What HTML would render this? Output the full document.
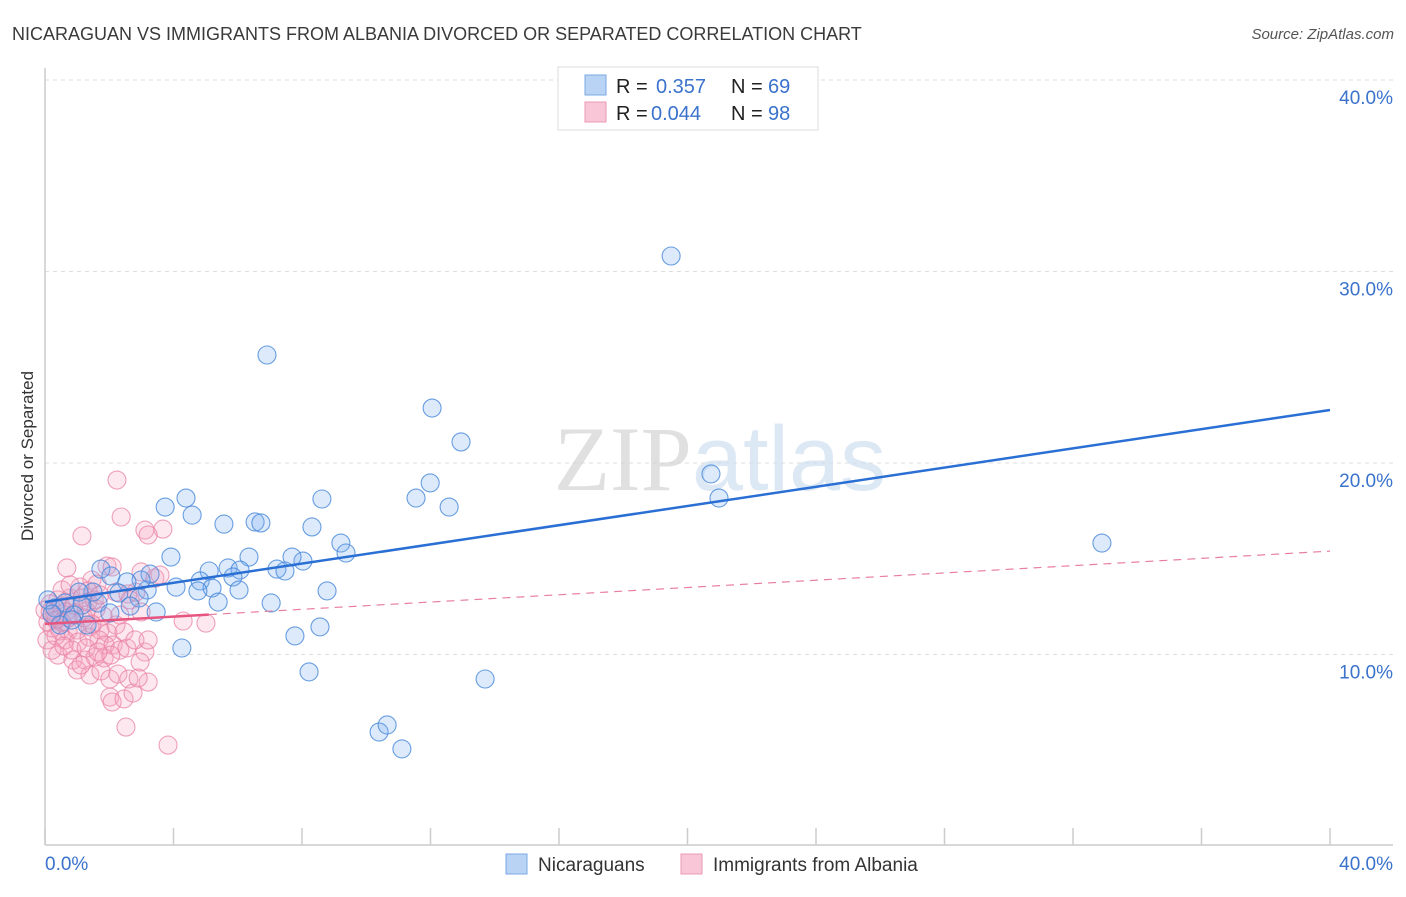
<!DOCTYPE html>
<html><head><meta charset="utf-8"><style>
body{margin:0;background:#fff;font-family:"Liberation Sans",sans-serif;}
svg text{font-family:"Liberation Sans",sans-serif;}
</style></head><body>
<svg id="chart" width="1406" height="892" xmlns="http://www.w3.org/2000/svg">
<text x="12" y="40" font-size="18" fill="#3a3a3a">NICARAGUAN VS IMMIGRANTS FROM ALBANIA DIVORCED OR SEPARATED CORRELATION CHART</text>
<text x="1394" y="39" font-size="15" fill="#555" font-style="italic" text-anchor="end">Source: ZipAtlas.com</text>
<text transform="translate(33,456) rotate(-90)" font-size="17" fill="#333" text-anchor="middle">Divorced or Separated</text>
<g id="grid"></g>
<g id="axes">
<line x1="45" y1="68" x2="45" y2="845" stroke="#ccc" stroke-width="1.5"/>
<line x1="45" y1="845" x2="1393" y2="845" stroke="#ccc" stroke-width="1.5"/>
</g>
<text x="720" y="490" font-size="92" text-anchor="middle" opacity="0.7"><tspan font-family="Liberation Serif" fill="#d4d4d4">ZIP</tspan><tspan fill="#cfdff2">atlas</tspan></text>
<g id="pink"></g>
<g id="blue"></g>
<g id="lines"></g>
<g>
<rect x="558" y="67" width="260" height="63" fill="#fff" stroke="#ddd"/>
<rect x="585" y="75" width="21" height="20" fill="#b8d3f4" stroke="#7aa8e4"/>
<rect x="585" y="102" width="21" height="20" fill="#f8c6d6" stroke="#ea9ab4"/>
<text x="616" y="93" font-size="20" fill="#222">R = </text><text x="656" y="93" font-size="20" fill="#3a72cc">0.357</text>
<text x="731" y="93" font-size="20" fill="#222">N = </text><text x="768" y="93" font-size="20" fill="#3a72cc">69</text>
<text x="616" y="120" font-size="20" fill="#222">R = </text><text x="651" y="120" font-size="20" fill="#3a72cc">0.044</text>
<text x="731" y="120" font-size="20" fill="#222">N = </text><text x="768" y="120" font-size="20" fill="#3a72cc">98</text>
</g>
<g>
<rect x="506" y="854" width="21" height="20" fill="#b8d3f4" stroke="#7aa8e4"/>
<text x="538" y="871" font-size="19" fill="#333">Nicaraguans</text>
<rect x="681" y="854" width="21" height="20" fill="#f8c6d6" stroke="#ea9ab4"/>
<text x="713" y="871" font-size="19" fill="#333">Immigrants from Albania</text>
</g>
<text x="45" y="870" font-size="19" fill="#3a72cc">0.0%</text>
<text x="1393" y="870" font-size="19" fill="#3a72cc" text-anchor="end">40.0%</text>
</svg>
<script>
const yTicks=[10,20,30,40];
const yTickLabels=["10.0%","20.0%","30.0%","40.0%"];
const xTicks=[0,4,8,12,16,20,24,28,32,36,40];
const blueX=[19.49,6.91,12.05,12.95,20.73,20.98,11.99,11.55,12.58,32.90,4.39,3.74,4.58,8.62,5.57,6.54,6.72,8.31,9.21,9.37,3.92,6.35,8.03,7.69,7.22,7.47,5.11,5.70,6.07,5.85,4.83,4.08,3.18,3.27,2.99,2.55,2.93,1.74,2.05,2.30,2.65,3.46,1.65,1.49,1.06,1.15,0.62,0.31,0.09,0.22,0.47,0.90,1.31,5.20,4.76,5.39,6.04,7.04,8.78,8.56,7.78,4.26,8.22,13.70,10.40,10.65,11.11,0.84,2.02];
const blueY=[30.81,25.64,22.87,21.10,19.43,18.17,18.96,18.17,17.70,15.82,18.17,17.70,17.28,18.12,16.81,16.92,16.87,16.66,15.82,15.30,15.09,15.09,14.88,15.09,14.46,14.36,14.36,14.52,14.41,14.05,13.84,13.52,13.37,14.20,13.89,13.79,12.95,14.46,14.10,13.21,12.53,12.22,12.69,13.26,13.26,12.58,12.69,12.43,12.85,12.11,11.54,12.06,11.54,13.47,13.32,12.74,13.37,12.69,13.32,11.44,10.97,10.34,9.09,8.72,5.95,6.32,5.07,11.80,12.17];
const pinkX=[2.24,2.37,1.15,3.11,3.67,3.21,0.68,1.93,2.09,2.99,3.42,1.46,1.62,1.09,1.34,2.21,2.58,2.83,0.78,0.40,0.16,0.50,0.65,0.93,1.28,1.59,1.81,0.31,0.09,0.22,0.47,0.72,1.00,1.40,1.71,1.96,2.33,2.65,2.99,4.30,5.01,0.62,1.03,1.37,1.68,1.87,2.12,2.33,0.40,0.87,1.25,1.56,1.84,2.05,2.55,3.11,1.00,1.40,1.74,2.02,2.27,2.61,3.21,1.12,2.02,2.09,2.46,2.74,2.52,3.83,0.06,0.22,0.53,0.78,0,0.16,0.34,0.53,0.72,0.90,1.15,1.34,1.53,1.71,1.21,1.46,2.21,2.46,2.80,0.34,0.59,0.84,1.28,1.65,2.90,3.21,2.96,3.58];
const pinkY=[19.11,17.18,16.19,16.50,16.55,16.24,14.52,14.62,14.57,14.31,13.99,13.89,13.68,13.52,13.32,13.26,13.16,13.26,12.95,12.85,12.64,12.53,12.22,12.17,12.27,12.38,12.01,11.96,11.70,11.38,11.23,11.23,11.28,11.44,11.28,11.12,12.06,12.85,12.22,11.75,11.64,10.76,10.65,10.91,10.76,10.50,10.50,10.23,9.97,9.71,9.71,9.87,9.82,9.97,10.34,10.13,9.19,8.93,9.14,8.72,8.98,8.72,8.56,9.45,7.78,7.52,7.68,7.99,6.21,5.27,10.76,10.23,13.37,13.63,12.32,12.22,11.80,11.70,11.91,12.58,12.95,12.74,12.85,13.11,11.91,11.59,11.54,11.18,10.76,10.97,10.44,10.23,10.34,10.13,8.77,10.76,9.61,14.15];
const blueTrend=[12.74,22.77];
const pinkTrend=[11.6,15.4];
const pinkSolidEnd=5.1;

const NS="http://www.w3.org/2000/svg";
const xs=v=>45+v/40*1285;
const ys=v=>846-v*19.15;
function mk(tag,attrs,parent){const e=document.createElementNS(NS,tag);for(const k in attrs)e.setAttribute(k,attrs[k]);parent.appendChild(e);return e;}
const grid=document.getElementById('grid');
yTicks.forEach((t,i)=>{
  const l=mk('line',{x1:45,x2:1393,y1:ys(t),y2:ys(t),stroke:'#ddd','stroke-dasharray':'4,4'},grid);
  
  
  const tx=mk('text',{x:1393,y:ys(t)+24,'font-size':19,fill:'#3a72cc','text-anchor':'end'},grid);
  tx.textContent=yTickLabels[i];
  
  
});
xTicks.forEach(t=>{
  const l=mk('line',{x1:xs(t),x2:xs(t),y1:828,y2:845,stroke:'#ccc','stroke-width':1.5},grid);
  
  
});
const pg=document.getElementById('pink');
pinkX.forEach((x,i)=>{
  const c=mk('circle',{cx:xs(x),cy:ys(pinkY[i]),r:9,fill:'rgba(246,165,190,0.25)',stroke:'rgba(232,130,165,0.75)','stroke-width':1.1},pg);
  
  
});
const bg=document.getElementById('blue');
blueX.forEach((x,i)=>{
  const c=mk('circle',{cx:xs(x),cy:ys(blueY[i]),r:9,fill:'rgba(120,172,238,0.25)',stroke:'rgba(70,135,218,0.8)','stroke-width':1.1},bg);
  
  
});
const lg=document.getElementById('lines');
const pAt=x=>pinkTrend[0]+(pinkTrend[1]-pinkTrend[0])*x/40;
let l1=mk('line',{x1:xs(pinkSolidEnd),y1:ys(pAt(pinkSolidEnd)),x2:xs(40),y2:ys(pinkTrend[1]),stroke:'#e87fa0','stroke-width':1.2,'stroke-dasharray':'8,6'},lg);


let l2=mk('line',{x1:xs(0),y1:ys(pinkTrend[0]),x2:xs(pinkSolidEnd),y2:ys(pAt(pinkSolidEnd)),stroke:'#e6557f','stroke-width':2.5},lg);


let l3=mk('line',{x1:xs(0),y1:ys(blueTrend[0]),x2:xs(40),y2:ys(blueTrend[1]),stroke:'#2a6fd4','stroke-width':2.5},lg);


</script>
</body></html>
